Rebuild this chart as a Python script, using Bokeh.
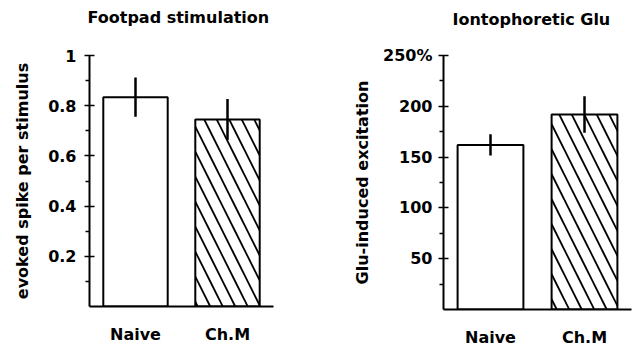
from bokeh.plotting import figure
from bokeh.layouts import row
from bokeh.models import (FactorRange, Range1d, FixedTicker, CustomJSTickFormatter,
                          Title, ColumnDataSource)
from bokeh.embed import file_html
from bokeh.resources import INLINE

# ---- data ----
groups = ["Naive", "Ch.M"]
hatches = [" ", "\\"]

footpad_mean = [0.834, 0.745]
footpad_err = [0.078, 0.082]
footpad_ticks = [0.2, 0.4, 0.6, 0.8, 1.0]
footpad_minor = [0.1, 0.3, 0.5, 0.7, 0.9]

glu_mean = [162, 192]
glu_err = [10.5, 18]
glu_ticks = [50, 100, 150, 200, 250]
glu_minor = [25, 75, 125, 175, 225]

FONT = "DejaVu Sans"
FS = "16px"


def panel(title, ylabel, means, errs, ymax, ticks, minor, fmt_code,
          frame_w, frame_h, min_left, min_right, min_top, min_bottom,
          title_offset, title_gap, label_standoff, tick_standoff):
    src = ColumnDataSource(dict(
        group=groups, mean=means, hatch=hatches,
        lo=[m - e for m, e in zip(means, errs)],
        hi=[m + e for m, e in zip(means, errs)],
    ))
    p = figure(x_range=FactorRange(*groups), y_range=Range1d(0, ymax),
               frame_width=frame_w, frame_height=frame_h, output_backend="svg",
               toolbar_location=None,
               min_border_left=min_left, min_border_right=min_right,
               min_border_top=min_top, min_border_bottom=min_bottom)
    p.title = Title(text=title, align="left", offset=title_offset,
                    standoff=0, text_font=FONT,
                    text_font_style="bold", text_font_size=FS,
                    text_color="black")
    # spacer between the frame and the title
    p.add_layout(Title(text=" ", text_font_size="2px", standoff=title_gap), "above")
    p.outline_line_color = None
    p.xgrid.grid_line_color = None
    p.ygrid.grid_line_color = None
    p.background_fill_color = "white"
    p.border_fill_color = "white"

    p.vbar(x="group", top="mean", bottom=0, width=0.7, source=src,
           fill_color="white", line_color="black", line_width=2,
           hatch_pattern="hatch", hatch_color="black",
           hatch_scale=25, hatch_weight=1.8)
    p.segment(x0="group", y0="lo", x1="group", y1="hi", source=src,
              line_color="black", line_width=2.5)

    ya = p.yaxis[0]
    ya.ticker = FixedTicker(ticks=ticks, minor_ticks=minor)
    ya.formatter = CustomJSTickFormatter(code=fmt_code)
    ya.axis_line_width = 2
    ya.axis_line_color = "black"
    ya.major_tick_in = 5
    ya.major_tick_out = 5
    ya.major_tick_line_width = 1.5
    ya.minor_tick_in = 0
    ya.minor_tick_out = 4
    ya.minor_tick_line_width = 1.5
    ya.major_label_text_font = FONT
    ya.major_label_text_font_style = "bold"
    ya.major_label_text_font_size = FS
    ya.major_label_text_color = "black"
    ya.major_label_standoff = tick_standoff
    ya.axis_label = ylabel
    ya.axis_label_text_font = FONT
    ya.axis_label_text_font_style = "bold"
    ya.axis_label_text_font_size = FS
    ya.axis_label_text_color = "black"
    ya.axis_label_standoff = label_standoff

    xa = p.xaxis[0]
    xa.axis_line_width = 2
    xa.axis_line_color = "black"
    xa.major_tick_line_color = None
    xa.minor_tick_line_color = None
    xa.major_tick_in = 0
    xa.major_tick_out = 0
    xa.major_label_text_font = FONT
    xa.major_label_text_font_style = "bold"
    xa.major_label_text_font_size = FS
    xa.major_label_text_color = "black"
    xa.major_label_standoff = 18
    return p


p1 = panel("Footpad stimulation", "evoked spike per stimulus",
           footpad_mean, footpad_err, 1.0, footpad_ticks, footpad_minor,
           "return tick >= 1 ? '1' : tick.toFixed(1);",
           184, 251, 89, 47, 55, 41, -2, 25, 13, 8)
p2 = panel("Iontophoretic Glu", "Glu-induced excitation",
           glu_mean, glu_err, 250, glu_ticks, glu_minor,
           "return tick >= 250 ? tick.toFixed(0) + '%' : tick.toFixed(0);",
           188, 254, 123, 8, 53, 40, 9, 23, 8, 6)

layout = row(p1, p2)
open("out.html", "w").write(file_html(layout, INLINE))
